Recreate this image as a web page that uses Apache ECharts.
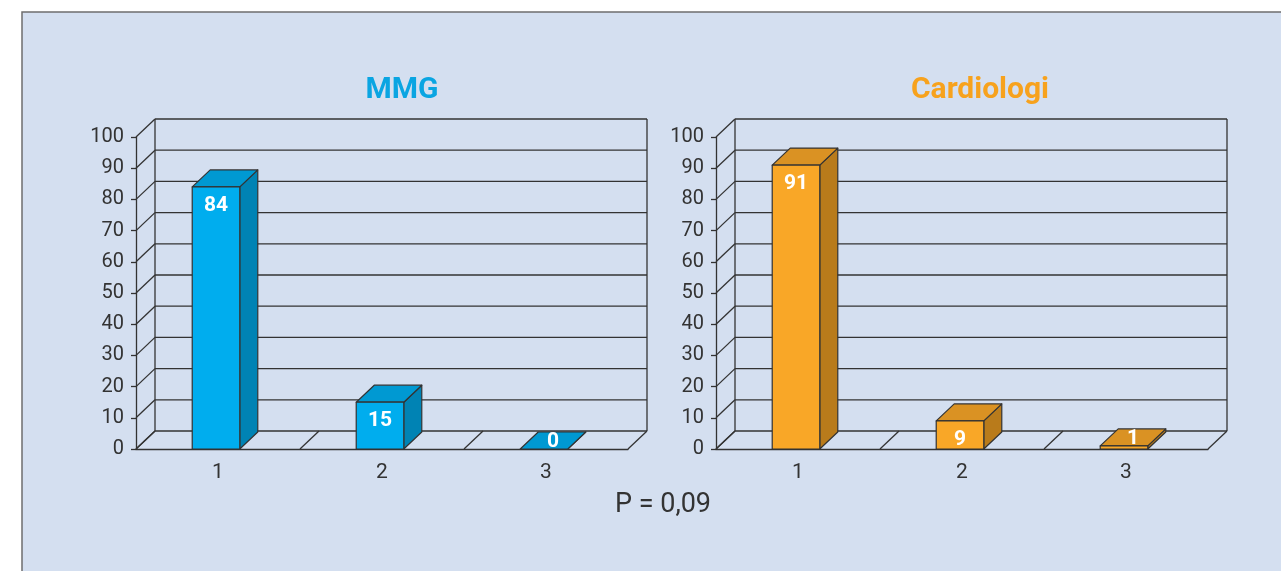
<!DOCTYPE html>
<html>
<head>
<meta charset="utf-8">
<script src="https://cdn.jsdelivr.net/npm/echarts@6/dist/echarts.min.js"></script>
<style>
html, body { margin: 0; padding: 0; background: #fff; }
#main { width: 1281px; height: 571px; }
</style>
</head>
<body>
<div id="main"></div>
<script>
// dati
var categories = ['1', '2', '3'];
var mmgValues = [84, 15, 0];
var cardioValues = [91, 9, 1];
var titles = ['MMG', 'Cardiologi'];
var pText = 'P = 0,09';

var myChart = echarts.init(document.getElementById('main'));

// profondita' 3D in pixel
var DX = 19, DY = -18;
var FONT = 'Roboto';
var LINE = '#333';

var palette = [
    { front: '#00adee', top: '#0099d2', side: '#0083b4' },
    { front: '#f9a727', top: '#da9223', side: '#b97b1b' }
];

// cornice 3D (pareti e pavimento)
function frameItem(params, api) {
    var bw = api.size([1, 0])[0];
    var left = api.coord([0, 0])[0] - bw / 2;
    var right = left + bw * categories.length;
    var y0 = api.coord([0, 0])[1];
    var y100 = api.coord([0, 100])[1];
    var kids = [];
    var st = { stroke: LINE, lineWidth: 1.3 };
    for (var v = 0; v <= 100; v += 10) {
        var y = api.coord([0, v])[1];
        kids.push({ type: 'line', shape: { x1: left, y1: y, x2: left + DX, y2: y + DY }, style: st });
        kids.push({ type: 'line', shape: { x1: left + DX, y1: y + DY, x2: right + DX, y2: y + DY }, style: st });
    }
    kids.push({ type: 'line', shape: { x1: left + DX, y1: y0 + DY, x2: left + DX, y2: y100 + DY }, style: st });
    kids.push({ type: 'line', shape: { x1: right + DX, y1: y0 + DY, x2: right + DX, y2: y100 + DY }, style: st });
    for (var i = 0; i <= categories.length; i++) {
        var x = left + bw * i;
        kids.push({ type: 'line', shape: { x1: x, y1: y0, x2: x + DX, y2: y0 + DY }, style: st });
    }
    return { type: 'group', children: kids };
}

function barItem(colors) {
    return function(params, api) {
        var idx = api.value(0);
        var val = api.value(1);
        var p0 = api.coord([idx, 0]);
        var p1 = api.coord([idx, val]);
        var w = api.size([1, 0])[0] * 0.29;
        var x0 = p0[0] - w / 2 - 2;
        var x1 = x0 + w;
        var yb = p0[1], yt = p1[1];
        var dx = 18, dy = -17;
        var st = { stroke: LINE, lineWidth: 1.2, lineJoin: 'round' };
        var kids = [
            { type: 'polygon', shape: { points: [[x1, yt], [x1 + dx, yt + dy], [x1 + dx, yb + dy], [x1, yb]] },
              style: Object.assign({ fill: colors.side }, st) },
            { type: 'polygon', shape: { points: [[x0, yt], [x1, yt], [x1 + dx, yt + dy], [x0 + dx, yt + dy]] },
              style: Object.assign({ fill: colors.top }, st) }
        ];
        if (yb - yt > 0.5) {
            kids.push({ type: 'rect', shape: { x: x0, y: yt, width: w, height: yb - yt },
                style: Object.assign({ fill: colors.front }, st) });
        }
        var lx, ly;
        if (yb - yt > 20) {
            lx = (x0 + x1) / 2; ly = yt + 19;
        } else {
            lx = (x0 + x1) / 2 + dx / 2; ly = yt + dy / 2 + 1;
        }
        kids.push({ type: 'text', style: { text: String(val), x: lx, y: ly, fill: '#fff',
            font: 'bold 21px ' + FONT, align: 'center', verticalAlign: 'middle' } });
        return { type: 'group', children: kids };
    };
}

function xAxisOpt(i) {
    return {
        type: 'category', gridIndex: i, data: categories,
        axisLine: { lineStyle: { color: LINE, width: 1.3 } },
        axisTick: { length: 5, lineStyle: { color: LINE, width: 1.3 } },
        axisLabel: { color: '#333', fontSize: 21, fontFamily: FONT, margin: 13 },
        splitLine: { show: false }
    };
}
function yAxisOpt(i) {
    return {
        type: 'value', gridIndex: i, min: 0, max: 100, interval: 10,
        axisLine: { show: true, lineStyle: { color: LINE, width: 1.3 } },
        axisTick: { show: true, length: 5, lineStyle: { color: LINE, width: 1.3 } },
        axisLabel: { color: '#333', fontSize: 20, fontFamily: FONT, margin: 12 },
        splitLine: { show: false }
    };
}

function pairs(vals) {
    return vals.map(function(v, i) { return [i, v]; });
}

var option = {
    backgroundColor: '#fff',
    animation: false,
    graphic: [{
        type: 'rect', z: -10, silent: true,
        shape: { x: 22, y: 12, width: 1280, height: 580 },
        style: { fill: '#d4dff0', stroke: '#6e6e6e', lineWidth: 1.5 }
    }],
    title: [
        { text: titles[0], left: 397, top: 70, textAlign: 'center',
          textStyle: { color: '#0aa5e2', fontSize: 30, fontWeight: 'bold', fontFamily: FONT } },
        { text: titles[1], left: 975, top: 70, textAlign: 'center',
          textStyle: { color: '#f7a21d', fontSize: 30, fontWeight: 'bold', fontFamily: FONT } },
        { text: pText, left: 658, top: 487, textAlign: 'center',
          textStyle: { color: '#333', fontSize: 27, fontWeight: 'normal', fontFamily: FONT } }
    ],
    grid: [
        { left: 136, right: 653, top: 137, bottom: 122 },
        { left: 716, right: 73, top: 137, bottom: 122 }
    ],
    xAxis: [xAxisOpt(0), xAxisOpt(1)],
    yAxis: [yAxisOpt(0), yAxisOpt(1)],
    series: [
        { type: 'custom', xAxisIndex: 0, yAxisIndex: 0, z: 1, clip: false, data: [[0, 0]], renderItem: frameItem },
        { type: 'custom', xAxisIndex: 1, yAxisIndex: 1, z: 1, clip: false, data: [[0, 0]], renderItem: frameItem },
        { type: 'custom', name: titles[0], xAxisIndex: 0, yAxisIndex: 0, z: 5, clip: false,
          data: pairs(mmgValues), renderItem: barItem(palette[0]) },
        { type: 'custom', name: titles[1], xAxisIndex: 1, yAxisIndex: 1, z: 5, clip: false,
          data: pairs(cardioValues), renderItem: barItem(palette[1]) }
    ]
};

myChart.setOption(option);
</script>
</body>
</html>
